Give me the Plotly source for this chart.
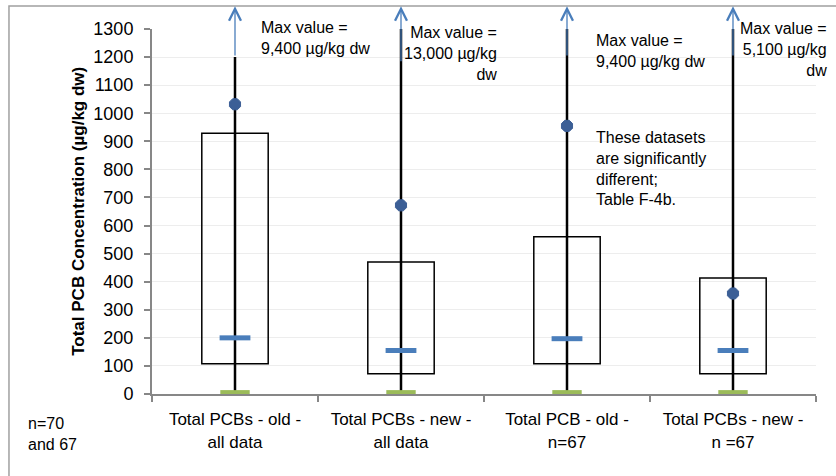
import plotly.graph_objects as go

categories = ["Total PCBs - old -<br>all data", "Total PCBs - new -<br>all data",
              "Total PCB - old -<br>n=67", "Total PCBs - new -<br>n =67"]
q1 = [108, 72, 108, 72]
q3 = [929, 470, 560, 413]
median = [200, 155, 197, 155]
mean = [1032, 672, 955, 358]
minimum = [5, 5, 5, 5]
whisker_top = [1200, 1300, 1300, 1300]
arrow_start = [1200, 1180, 1200, 1200]
arrow_head = 1381
y_ticks = list(range(0, 1301, 100))

FONT = "Liberation Sans"
fig = go.Figure()

fig.add_trace(go.Bar(
    x=categories, y=[b - a for a, b in zip(q1, q3)], base=q1, width=0.4,
    marker=dict(color="rgba(0,0,0,0)", line=dict(color="black", width=1.5)),
    showlegend=False, hoverinfo="skip"))

for c, lo, hi in zip(categories, minimum, whisker_top):
    fig.add_trace(go.Scatter(x=[c, c], y=[0, hi], mode="lines",
                             line=dict(color="black", width=2.5), showlegend=False))

fig.add_trace(go.Scatter(x=categories, y=median, mode="markers", cliponaxis=False,
                         marker=dict(symbol="line-ew", size=22, line=dict(width=5, color="#4A7EBB")),
                         showlegend=False))
fig.add_trace(go.Scatter(x=categories, y=minimum, mode="markers", cliponaxis=False,
                         marker=dict(symbol="line-ew", size=21, line=dict(width=5, color="#9BBB59")),
                         showlegend=False))
fig.add_trace(go.Scatter(x=categories, y=mean, mode="markers", cliponaxis=False,
                         marker=dict(symbol="octagon", size=12, color="#3C5F96",
                                     line=dict(width=1, color="#3C5F96")),
                         showlegend=False))

annotations = []
for c, s in zip(categories, arrow_start):
    annotations.append(dict(x=c, y=arrow_head, xref="x", yref="y", ax=c, ay=s,
                            axref="x", ayref="y", text="", showarrow=True,
                            arrowhead=5, arrowsize=1.8, arrowwidth=1.3, arrowcolor="#4A7EBB"))

tf = dict(family=FONT, size=16, color="black")
def txt(text, x, y, xanchor="left", align="left"):
    annotations.append(dict(text=text, x=x, y=y, xref="paper", yref="paper",
                            xanchor=xanchor, yanchor="top", align=align,
                            showarrow=False, font=tf))

txt("Max value =<br>9,400 µg/kg dw", 0.161, 1.034)
txt("Max value =<br>13,000 µg/kg<br>dw", 0.5226, 1.019, "right", "right")
txt("Max value =<br>9,400 µg/kg dw", 0.6657, 0.997)
txt("These datasets<br>are significantly<br>different;<br>Table F-4b.", 0.6657, 0.7315)
txt("Max value =<br>5,100 µg/kg<br>dw", 1.0196, 1.031, "right", "right")
txt("n=70<br>and 67", -0.1897, -0.052)
annotations.append(dict(text="<b>Total PCB Concentration (µg/kg dw)</b>", x=-0.111, y=0.5,
                        xref="paper", yref="paper", textangle=-90, showarrow=False,
                        xanchor="center", yanchor="middle",
                        font=dict(family=FONT, size=17, color="black")))

fig.update_layout(
    width=836, height=476, margin=dict(l=152, r=20, t=29, b=82),
    paper_bgcolor="white", plot_bgcolor="white",
    font=dict(family=FONT, size=16, color="black"),
    annotations=annotations, bargap=0.6,
    shapes=[dict(type="rect", xref="paper", yref="paper", x0=-0.2154, x1=1.04,
                 y0=-0.24, y1=1.063, line=dict(color="#A0A0A0", width=1.5))],
    xaxis=dict(showline=True, linecolor="#878787", linewidth=2, ticks="outside",
               tickson="boundaries", ticklen=6, tickcolor="#878787", tickwidth=2,
               showgrid=False, tickfont=dict(family=FONT, size=17), ticklabelstandoff=9),
    yaxis=dict(range=[0, 1300], tickvals=y_ticks, showline=True, linecolor="#878787",
               linewidth=2, ticks="outside", ticklen=6, tickcolor="#878787", tickwidth=2,
               gridcolor="#EDEDED", gridwidth=1, zeroline=False,
               tickfont=dict(family=FONT, size=18), ticklabelstandoff=7),
)

fig.write_html("out.html")
